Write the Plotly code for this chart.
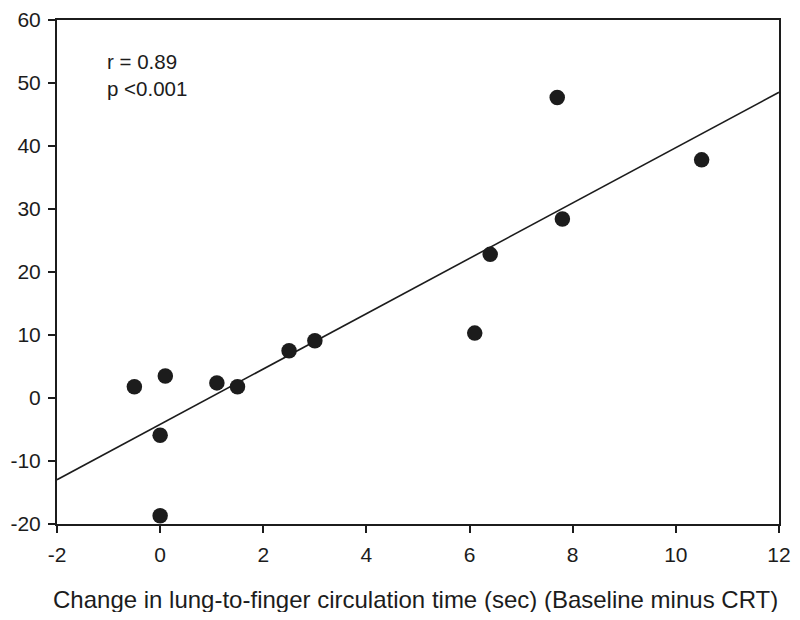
import numpy as np
import plotly.graph_objects as go

x_vals = [-0.5, 0.0, 0.0, 0.1, 1.1, 1.5, 2.5, 3.0, 6.1, 6.4, 7.7, 7.8, 10.5]
y_vals = [1.8, -5.9, -18.7, 3.5, 2.4, 1.8, 7.5, 9.1, 10.3, 22.8, 47.7, 28.4, 37.8]
x_ticks = [-2, 0, 2, 4, 6, 8, 10, 12]
y_ticks = [-20, -10, 0, 10, 20, 30, 40, 50, 60]
x_title = "Change in lung-to-finger circulation time (sec) (Baseline minus CRT)"
stats_text = "r = 0.89<br>p <0.001"

slope, intercept = np.polyfit(x_vals, y_vals, 1)
line_x = [x_ticks[0], x_ticks[-1]]
line_y = [intercept + slope * v for v in line_x]

ink = "#1c1c1c"
font_family = "Liberation Sans, Arial, sans-serif"

fig = go.Figure()
fig.add_trace(go.Scatter(x=line_x, y=line_y, mode="lines",
                         line=dict(color=ink, width=1.6), showlegend=False, hoverinfo="skip"))
fig.add_trace(go.Scatter(x=x_vals, y=y_vals, mode="markers",
                         marker=dict(color=ink, size=15.5), showlegend=False))

fig.add_annotation(x=-1.07, y=55.6, xref="x", yref="y", text=stats_text, showarrow=False,
                   xanchor="left", yanchor="top", align="left",
                   font=dict(family=font_family, size=20.5, color=ink))

fig.add_annotation(x=0.497, y=-0.15, xref="paper", yref="paper", text=x_title, showarrow=False,
                   xanchor="center", yanchor="middle",
                   font=dict(family=font_family, size=24, color=ink))

axis_common = dict(showgrid=False, zeroline=False, showline=True, linecolor=ink, linewidth=2,
                   mirror=True, ticks="outside", ticklen=7, tickwidth=2, tickcolor=ink,
                   automargin=False,
                   tickfont=dict(family=font_family, size=21, color=ink))

fig.update_xaxes(range=[-2, 12], tickvals=x_ticks, ticktext=[str(v) for v in x_ticks],
                 ticklabelstandoff=4, **axis_common)
fig.update_yaxes(range=[-20, 60], tickvals=y_ticks, ticktext=[str(v) for v in y_ticks],
                 ticklabelstandoff=3, **axis_common)

fig.update_layout(width=784, height=604, margin=dict(l=49, r=13, t=12, b=88),
                  plot_bgcolor="white", paper_bgcolor="white",
                  font=dict(family=font_family, color=ink))

fig.write_html("out.html")
